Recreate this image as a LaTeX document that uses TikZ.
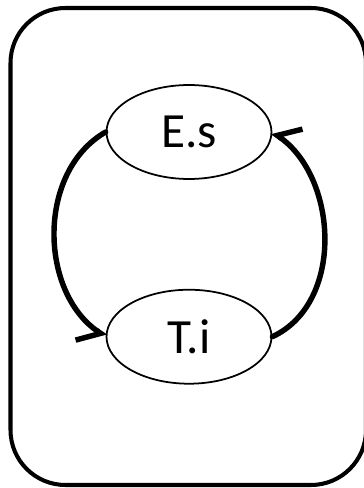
\documentclass[tikz,border=0pt]{standalone}
\usepackage{fontspec}
\setmainfont{Carlito}
\usetikzlibrary{shapes.geometric, arrows.meta, positioning}

\begin{document}
\begin{tikzpicture}[
    x=0.02cm, y=0.02cm,
    node distance=2.18cm,
    state/.style={draw, ellipse, line width=1pt, minimum width=3.3cm, minimum height=1.88cm, inner sep=0pt, font=\fontsize{28}{30}\selectfont},
    arr/.style={-{Straight Barb[right, angle=98:0.52cm]}, line width=3.1pt, line cap=round}
]
\useasboundingbox (0,0) rectangle (364,488);
\clip (0,0) rectangle (364,488);
\draw[line width=2.3pt, rounded corners=1.1cm] (10.5,3) rectangle (366,480);
\node[state] (es) at (189,356) {E.s};
\node[state, below=of es] (ti) {T.i};
\draw[arr] (es.west) to[out=210, in=146] (ti.west);
\draw[arr] (ti.east) to[out=25, in=-35] (es.east);
\end{tikzpicture}
\end{document}
